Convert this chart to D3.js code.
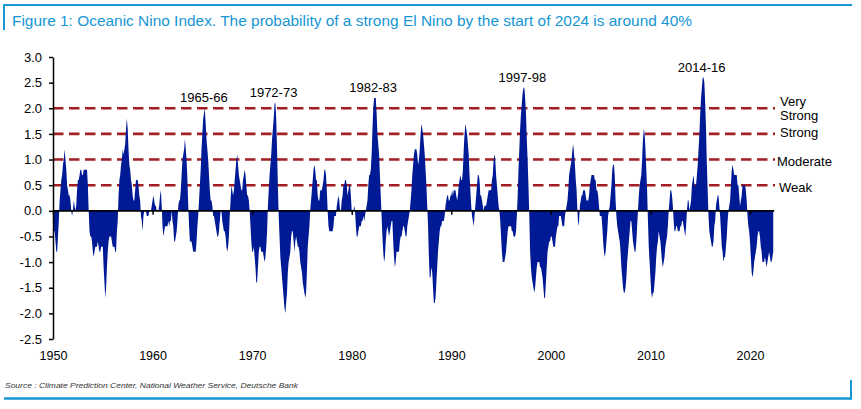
<!DOCTYPE html>
<html>
<head>
<meta charset="utf-8">
<script src="https://cdn.jsdelivr.net/npm/d3@7"></script>
<style>
html, body { margin: 0; padding: 0; background: #ffffff; }
svg { display: block; font-family: "Liberation Sans", Arial, Helvetica, sans-serif; }
</style>
</head>
<body>
<svg id="chart" width="861" height="409"></svg>
<script>
// Oceanic Nino Index, 3-month running mean, one value per month.
// Series starts with the JAS 1950 season and ends with NDJ 2022.
const oni1950s = [
  -0.4,-0.4,-0.4,-0.6,-0.8,
  -0.8,-0.5,-0.2,0.2,0.4,0.6,0.7,0.9,1.0,1.2,1.0,0.8,
  0.5,0.4,0.3,0.3,0.2,0.0,-0.1,0.0,0.2,0.1,0.0,0.1,
  0.4,0.6,0.6,0.7,0.8,0.8,0.7,0.7,0.8,0.8,0.8,0.8,
  0.8,0.5,0.0,-0.4,-0.5,-0.5,-0.6,-0.8,-0.9,-0.8,-0.7,-0.7,
  -0.7,-0.6,-0.7,-0.8,-0.8,-0.7,-0.7,-0.7,-1.1,-1.4,-1.7,-1.5,
  -1.1,-0.8,-0.6,-0.5,-0.5,-0.5,-0.6,-0.7,-0.7,-0.7,-0.8,-0.8,
  -0.4,-0.2,0.3,0.6,0.7,0.9,1.0,1.2,1.1,1.2,1.3,1.6,
  1.8,1.6,1.2,0.9,0.8,0.6,0.5,0.3,0.2,0.2,0.4,0.6,
  0.6,0.6,0.5,0.3,0.2,-0.1,-0.2,-0.4,-0.1,0.0,0.0,0.0
];
const oni1960s = [
  -0.1,-0.1,-0.1,0.0,0.0,0.0,0.1,0.2,0.3,0.2,0.1,0.1,
  0.0,0.0,0.0,0.1,0.3,0.4,0.1,-0.3,-0.5,-0.4,-0.3,-0.3,
  -0.3,-0.3,-0.2,-0.3,-0.2,-0.2,0.0,-0.2,-0.3,-0.6,-0.6,-0.5,
  -0.4,-0.2,0.1,0.2,0.2,0.4,0.7,1.0,1.1,1.2,1.4,1.2,
  1.0,0.6,0.1,-0.3,-0.6,-0.6,-0.6,-0.7,-0.8,-0.8,-0.8,-0.8,
  -0.6,-0.3,-0.1,0.2,0.5,0.8,1.2,1.5,1.8,1.9,2.0,1.7,
  1.4,1.2,1.0,0.7,0.4,0.2,0.2,0.1,-0.1,-0.1,-0.2,-0.3,
  -0.4,-0.5,-0.5,-0.4,-0.2,0.0,0.0,-0.2,-0.3,-0.4,-0.4,-0.5,
  -0.7,-0.8,-0.7,-0.5,-0.1,0.2,0.5,0.4,0.3,0.4,0.6,0.8,
  1.0,1.1,0.9,0.7,0.6,0.5,0.4,0.4,0.6,0.7,0.8,0.7
];
const oni1970s = [
  0.5,0.3,0.3,0.2,0.0,-0.3,-0.6,-0.8,-0.8,-0.7,-0.9,-1.1,
  -1.4,-1.4,-1.1,-0.8,-0.7,-0.7,-0.8,-0.8,-0.8,-0.9,-1.0,-0.9,
  -0.7,-0.4,0.1,0.4,0.7,0.9,1.1,1.4,1.6,1.8,2.1,2.1,
  1.8,1.2,0.5,-0.1,-0.5,-0.9,-1.1,-1.3,-1.5,-1.7,-1.9,-2.0,
  -1.8,-1.6,-1.2,-1.0,-0.9,-0.8,-0.5,-0.4,-0.4,-0.6,-0.8,-0.6,
  -0.5,-0.6,-0.7,-0.7,-0.8,-1.0,-1.1,-1.2,-1.4,-1.5,-1.6,-1.7,
  -1.6,-1.2,-0.7,-0.5,-0.3,0.0,0.2,0.4,0.6,0.8,0.9,0.8,
  0.6,0.6,0.3,0.2,0.2,0.4,0.4,0.4,0.5,0.6,0.8,0.8,
  0.7,0.4,0.0,-0.3,-0.4,-0.4,-0.4,-0.4,-0.4,-0.3,-0.1,-0.1,
  -0.1,0.1,0.2,0.3,0.2,0.0,0.0,0.2,0.3,0.5,0.5,0.6
];
const oni1980s = [
  0.6,0.5,0.3,0.4,0.5,0.5,0.3,0.0,-0.1,0.0,0.1,0.0,
  -0.3,-0.5,-0.5,-0.4,-0.3,-0.3,-0.3,-0.2,-0.2,-0.1,-0.2,-0.1,
  0.0,0.1,0.2,0.5,0.7,0.7,0.8,1.1,1.6,2.0,2.2,2.2,
  2.2,1.9,1.5,1.3,1.1,0.7,0.3,-0.1,-0.5,-0.8,-1.0,-0.9,
  -0.6,-0.4,-0.3,-0.4,-0.5,-0.4,-0.3,-0.2,-0.2,-0.6,-0.9,-1.1,
  -1.0,-0.8,-0.8,-0.8,-0.8,-0.6,-0.5,-0.5,-0.4,-0.3,-0.3,-0.4,
  -0.5,-0.5,-0.3,-0.2,-0.1,0.0,0.2,0.4,0.7,0.9,1.1,1.2,
  1.2,1.2,1.1,0.9,1.0,1.2,1.5,1.7,1.6,1.5,1.3,1.1,
  0.8,0.5,0.1,-0.3,-0.9,-1.3,-1.3,-1.1,-1.2,-1.5,-1.8,-1.8,
  -1.7,-1.4,-1.1,-0.8,-0.6,-0.4,-0.3,-0.3,-0.2,-0.2,-0.2,-0.1
];
const oni1990s = [
  0.1,0.2,0.3,0.3,0.2,0.2,0.3,0.3,0.4,0.3,0.4,0.4,
  0.4,0.3,0.2,0.3,0.5,0.6,0.7,0.6,0.6,0.8,1.2,1.5,
  1.7,1.6,1.5,1.3,1.1,0.7,0.4,0.1,-0.1,-0.2,-0.3,-0.1,
  0.1,0.3,0.5,0.7,0.7,0.6,0.3,0.3,0.2,0.1,0.0,0.1,
  0.1,0.1,0.2,0.3,0.4,0.4,0.4,0.4,0.6,0.7,1.0,1.1,
  1.0,0.7,0.5,0.3,0.1,0.0,-0.2,-0.5,-0.8,-1.0,-1.0,-1.0,
  -0.9,-0.8,-0.6,-0.4,-0.3,-0.3,-0.3,-0.3,-0.4,-0.4,-0.5,-0.5,
  -0.5,-0.4,-0.1,0.3,0.8,1.2,1.6,1.9,2.1,2.3,2.4,2.4,
  2.2,1.9,1.4,1.0,0.5,-0.1,-0.8,-1.1,-1.3,-1.4,-1.5,-1.6,
  -1.5,-1.3,-1.1,-1.0,-1.0,-1.0,-1.1,-1.1,-1.2,-1.3,-1.5,-1.7
];
const oni2000s = [
  -1.7,-1.4,-1.1,-0.8,-0.7,-0.6,-0.6,-0.5,-0.5,-0.6,-0.7,-0.7,
  -0.7,-0.5,-0.4,-0.3,-0.3,-0.1,-0.1,-0.1,-0.2,-0.3,-0.3,-0.3,
  -0.1,0.0,0.1,0.2,0.4,0.7,0.8,0.9,1.0,1.2,1.3,1.1,
  0.9,0.6,0.4,0.0,-0.3,-0.2,0.1,0.2,0.3,0.3,0.4,0.4,
  0.4,0.3,0.2,0.2,0.2,0.3,0.5,0.6,0.7,0.7,0.7,0.7,
  0.6,0.6,0.4,0.4,0.3,0.1,-0.1,-0.1,-0.1,-0.3,-0.6,-0.8,
  -0.9,-0.8,-0.6,-0.4,-0.1,0.0,0.1,0.3,0.5,0.8,0.9,0.9,
  0.7,0.2,-0.1,-0.3,-0.4,-0.5,-0.6,-0.8,-1.1,-1.3,-1.5,-1.6,
  -1.6,-1.5,-1.3,-1.0,-0.8,-0.6,-0.4,-0.2,-0.2,-0.4,-0.6,-0.7,
  -0.8,-0.8,-0.6,-0.3,0.0,0.3,0.5,0.6,0.7,1.0,1.4,1.6
];
const oni2010s = [
  1.5,1.2,0.8,0.4,-0.2,-0.7,-1.0,-1.3,-1.6,-1.7,-1.6,-1.6,
  -1.4,-1.2,-0.9,-0.7,-0.6,-0.4,-0.5,-0.6,-0.8,-1.0,-1.1,-1.0,
  -0.9,-0.7,-0.6,-0.5,-0.3,0.0,0.2,0.4,0.4,0.3,0.1,-0.2,
  -0.4,-0.4,-0.3,-0.3,-0.4,-0.4,-0.4,-0.3,-0.3,-0.2,-0.2,-0.3,
  -0.4,-0.5,-0.3,0.0,0.2,0.2,0.0,0.1,0.2,0.5,0.6,0.7,
  0.5,0.5,0.5,0.7,0.9,1.2,1.5,1.9,2.2,2.4,2.6,2.6,
  2.5,2.1,1.6,0.9,0.4,-0.1,-0.4,-0.5,-0.6,-0.7,-0.7,-0.6,
  -0.3,-0.2,0.1,0.2,0.3,0.3,0.1,-0.1,-0.4,-0.7,-0.8,-1.0,
  -0.9,-0.9,-0.7,-0.5,-0.2,0.0,0.1,0.2,0.5,0.8,0.9,0.8,
  0.7,0.7,0.7,0.7,0.5,0.5,0.3,0.1,0.2,0.3,0.5,0.5
];
const oni2020s = [
  0.5,0.5,0.4,0.2,-0.1,-0.3,-0.4,-0.6,-0.9,-1.2,-1.3,-1.2,
  -1.0,-0.9,-0.8,-0.7,-0.5,-0.4,-0.4,-0.5,-0.7,-0.8,-1.0,-1.0,
  -1.0,-0.9,-1.0,-1.1,-1.0,-0.9,-0.8,-0.9,-1.0,-1.0,-0.9,-0.8
];

// Category-axis labels (one every 120 points, starting at the first point)
const xTickLabels = ["1950","1960","1970","1980","1990","2000","2010","2020"];
const yTickValues = [-2.5,-2.0,-1.5,-1.0,-0.5,0.0,0.5,1.0,1.5,2.0,2.5,3.0];

// El Nino strength thresholds
const thresholdLevels = [0.5, 1.0, 1.5, 2.0];
const thresholdLabels = ["Weak", "Moderate", "Strong", "Very Strong"];

// Strong El Nino episodes annotated at their peak
const episodeLabels = ["1965-66", "1972-73", "1982-83", "1997-98", "2014-16"];
const episodePeakYears = [1965, 1972, 1982, 1997, 2015];

const titleText = "Figure 1: Oceanic Nino Index. The probability of a strong El Nino by the start of 2024 is around 40%";
const sourceText = "Source : Climate Prediction Center, National Weather Service, Deutsche Bank";

// ---------------------------------------------------------------
const values = [].concat(oni1950s, oni1960s, oni1970s, oni1980s, oni1990s, oni2000s, oni2010s, oni2020s);
const startMonthOffset = 7; // first point = JAS 1950 (centre month August)

const svg = d3.select("#chart");
const BLUE = "#1696d4";
const AREA = "#001a96";
const RED = "#a31e22";

const x = d3.scaleLinear().domain([0, 840]).range([53, 750]);
const y = d3.scaleLinear().domain([-2.5, 3.0]).range([339, 57]);
const xTickIdx = xTickLabels.map((d, i) => i * 120);

// Frame
svg.append("line").attr("x1", 3).attr("x2", 852).attr("y1", 5).attr("y2", 5)
  .attr("stroke", BLUE).attr("stroke-width", 2);
svg.append("line").attr("x1", 4).attr("x2", 4).attr("y1", 4).attr("y2", 30)
  .attr("stroke", BLUE).attr("stroke-width", 2);
svg.append("line").attr("x1", 4).attr("x2", 852).attr("y1", 398.5).attr("y2", 398.5)
  .attr("stroke", BLUE).attr("stroke-width", 2.5);
svg.append("line").attr("x1", 851).attr("x2", 851).attr("y1", 380).attr("y2", 399.5)
  .attr("stroke", BLUE).attr("stroke-width", 2);

// Title
svg.append("text").attr("x", 12).attr("y", 26)
  .attr("fill", BLUE).attr("font-size", 15.5)
  .attr("textLength", 680).attr("lengthAdjust", "spacingAndGlyphs")
  .text(titleText);

// Source
svg.append("text").attr("x", 5).attr("y", 388)
  .attr("fill", "#333").attr("font-size", 8).attr("font-style", "italic")
  .attr("textLength", 293).attr("lengthAdjust", "spacingAndGlyphs")
  .text(sourceText);

// Threshold dashed lines
const lastX = x(values.length - 1);
svg.append("g").selectAll("line").data(thresholdLevels).join("line")
  .attr("x1", 53).attr("x2", 775)
  .attr("y1", d => y(d)).attr("y2", d => y(d))
  .attr("stroke", RED).attr("stroke-width", 2.6)
  .attr("stroke-dasharray", "10.5,5.5");

// Area
const area = d3.area()
  .x((d, i) => x(i))
  .y0(y(0))
  .y1(d => y(d));
svg.append("path").datum(values)
  .attr("d", area)
  .attr("fill", AREA);

// Zero line with decade ticks
svg.append("line").attr("x1", 53).attr("x2", lastX + 1)
  .attr("y1", y(0)).attr("y2", y(0))
  .attr("stroke", "#000").attr("stroke-width", 1.8);
const zeroAxis = svg.append("g").attr("transform", `translate(0,${y(0)})`)
  .call(d3.axisBottom(x).tickValues(xTickIdx).tickFormat("").tickSize(4).tickSizeOuter(0));
zeroAxis.select(".domain").remove();
zeroAxis.selectAll(".tick line").attr("stroke", "#000").attr("stroke-width", 1.5);

// X labels at the bottom
const xLab = svg.append("g").attr("transform", "translate(0,339)")
  .call(d3.axisBottom(x).tickValues(xTickIdx).tickFormat((d, i) => xTickLabels[i]).tickSize(0).tickPadding(12.5));
xLab.select(".domain").remove();
xLab.selectAll("text").attr("font-size", 12.5).attr("fill", "#000")
  .attr("font-family", "'Liberation Sans', Arial, sans-serif");

// Y axis
const yAx = svg.append("g").attr("transform", "translate(53,0)")
  .call(d3.axisLeft(y).tickValues(yTickValues).tickFormat(d => d.toFixed(1)).tickSize(4).tickSizeOuter(0).tickPadding(7));
yAx.select(".domain").attr("stroke", "#000").attr("stroke-width", 1.5);
yAx.selectAll(".tick line").attr("stroke", "#000").attr("stroke-width", 1.5);
yAx.selectAll("text").attr("font-size", 13).attr("fill", "#000")
  .attr("font-family", "'Liberation Sans', Arial, sans-serif");

// Threshold labels
const labelDx = { "Weak": 779, "Moderate": 777, "Strong": 780, "Very Strong": 780 };
const labelDy = { "Weak": 7, "Moderate": 6, "Strong": 3.5, "Very Strong": -2.6 };
const thr = svg.append("g").attr("font-size", 13).attr("fill", "#000");
thresholdLevels.forEach((lv, i) => {
  const name = thresholdLabels[i];
  const t = thr.append("text").attr("x", labelDx[name]).attr("y", y(lv) + labelDy[name]);
  if (name.includes(" ")) {
    const parts = name.split(" ");
    parts.forEach((p, k) => {
      t.append("tspan").attr("x", labelDx[name]).attr("dy", k === 0 ? 0 : 14.5).text(p);
    });
  } else {
    t.text(name);
  }
});

// Episode annotations at the peak of each episode
const ann = svg.append("g").attr("font-size", 13).attr("fill", "#000").attr("text-anchor", "middle");
episodeLabels.forEach((lab, i) => {
  const start = (episodePeakYears[i] - 1950) * 12 + 6 - startMonthOffset;
  let best = start;
  for (let k = start; k < start + 12 && k < values.length; k++) {
    if (values[k] > values[best]) best = k;
  }
  ann.append("text").attr("x", x(best) - 1).attr("y", y(values[best]) - 6).text(lab);
});
</script>
</body>
</html>
